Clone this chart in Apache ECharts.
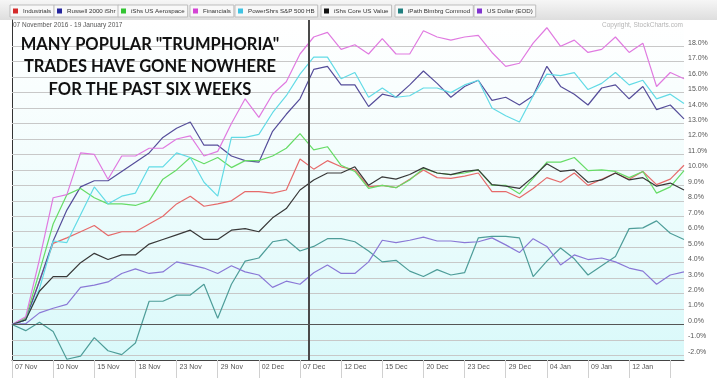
<!DOCTYPE html>
<html><head><meta charset="utf-8">
<script src="https://cdn.jsdelivr.net/npm/echarts@6/dist/echarts.min.js"></script>
<style>html,body{margin:0;padding:0;background:#fff}#c{width:717px;height:380px}</style>
</head><body><div id="c"></div>
<script>
const dates = ['07 Nov','08 Nov','09 Nov','10 Nov','11 Nov','14 Nov','15 Nov','16 Nov','17 Nov','18 Nov','21 Nov','22 Nov','23 Nov','25 Nov','28 Nov','29 Nov','30 Nov','01 Dec','02 Dec','05 Dec','06 Dec','07 Dec','08 Dec','09 Dec','12 Dec','13 Dec','14 Dec','15 Dec','16 Dec','19 Dec','20 Dec','21 Dec','22 Dec','23 Dec','27 Dec','28 Dec','29 Dec','30 Dec','03 Jan','04 Jan','05 Jan','06 Jan','09 Jan','10 Jan','11 Jan','12 Jan','13 Jan','17 Jan','18 Jan','19 Jan'];

const names = ['Industrials','Russell 2000 iShr','iShs US Aerospace','Financials','PowerShrs S&P 500 HB','iShs Core US Value','iPath Blmbrg Commod','US Dollar (EOD)'];

const industrials = [0,0.4,2.8,5.25,5.6,6.0,6.4,5.75,6.0,6.0, 6.5,7.0,7.8,8.3,7.65,7.8,8.0,8.6,8.6,8.5, 8.7,10.7,10.05,10.6,10.2,10.0,8.9,9.0,8.85,9.4, 10.0,9.5,9.45,9.6,9.8,8.6,8.6,8.2,8.8,9.5, 9.2,9.8,9.0,9.4,9.8,9.4,9.9,9.05,9.4,10.3];
const russell = [0,0.3,2.8,5.4,7.4,8.9,9.3,9.3,9.9,10.5, 11.1,12.1,12.7,13.1,11.6,11.6,10.9,10.6,10.5,12.5, 13.6,14.6,16.5,16.7,15.5,15.5,14.1,14.9,14.7,15.5, 16.4,15.6,14.7,15.4,15.8,14.5,14.7,14.2,14.8,16.7, 15.4,14.9,14.2,15.3,15.5,14.6,15.4,13.9,14.2,13.3];
const aerospace = [0,0.4,3.4,6.5,8.4,8.8,8.2,7.8,7.8,7.7, 8.0,9.4,10.0,10.8,10.4,10.8,10.15,10.6,10.6,10.9, 11.4,12.35,11.3,11.5,10.3,9.9,8.8,9.0,8.85,9.35, 10.1,9.8,9.7,9.8,10.0,9.0,9.0,8.45,9.45,10.5, 10.5,10.8,9.95,10.0,9.9,9.5,9.9,8.5,8.9,9.95];
const financials = [0,0.5,4.2,8.2,8.4,11.1,11.0,9.4,10.9,10.9, 11.4,11.4,12.0,12.2,10.9,11.2,13.0,14.6,13.4,14.9, 15.7,17.5,18.6,18.9,17.8,18.1,17.5,18.5,17.5,17.5, 19.0,18.6,18.4,18.6,18.7,17.6,16.7,16.9,18.2,19.2, 18.0,18.4,17.6,17.8,18.6,17.6,18.2,15.4,16.3,15.9];
const powershares = [0,0.3,2.3,5.4,5.3,7.1,8.9,7.8,8.3,8.5, 10.2,10.2,11.1,10.8,9.2,8.3,12.1,12.1,12.3,13.7, 14.8,16.2,17.3,17.3,15.9,16.3,14.7,15.3,14.7,14.8, 15.3,15.3,15.0,15.5,15.8,14.0,13.5,13.1,14.8,16.2, 16.1,16.3,15.2,15.6,16.3,15.5,15.8,14.6,14.9,14.3];
const coreValue = [0,0.3,2.15,3.1,3.1,4.0,4.6,4.2,4.5,4.5, 5.2,5.5,5.8,6.1,5.5,5.5,6.1,6.2,6.0,6.9, 7.5,8.7,9.35,9.8,9.8,10.2,9.0,9.55,9.4,9.7, 10.15,9.8,9.7,9.9,10.0,9.05,8.95,8.8,9.55,10.4, 9.9,10.0,9.2,9.35,9.8,9.35,9.5,8.95,9.15,8.7];
const commodity = [0,-0.4,0.15,-0.45,-2.25,-2.05,-0.85,-1.7,-1.95,-1.2, 1.5,1.5,1.9,1.9,2.6,0.4,2.6,4.1,4.3,5.35, 5.5,4.75,5.05,5.55,5.55,5.35,4.75,4.05,4.15,3.45, 3.1,3.55,3.2,3.35,5.6,5.7,5.7,5.6,3.1,4.1, 4.95,4.25,3.2,3.8,4.4,6.2,6.25,6.7,5.9,5.5];
const usDollar = [0,0.05,0.75,1.05,1.3,2.4,2.55,2.75,3.3,3.6, 3.3,3.4,4.05,3.85,3.65,3.3,3.8,3.4,3.2,2.4, 2.8,2.6,3.35,3.85,3.3,3.3,4.05,5.45,5.3,5.45, 5.65,5.4,5.4,5.3,5.35,5.6,5.15,4.65,5.55,5.05, 3.85,4.5,4.2,4.3,4.05,3.65,3.45,2.6,3.2,3.4];

const yTicks = [-2,-1,0,1,2,3,4,5,6,7,8,9,10,11,12,13,14,15,16,17,18];
const markerDay = 21.66;

const allValues = [industrials, russell, aerospace, financials, powershares, coreValue, commodity, usDollar];
const lineColors = ['#e66a6a','#554d9a','#66dc66','#e07ae0','#62dbe6','#383838','#4e9d99','#8a78d6'];
const legendColors = ['#d42a2a','#25259e','#33c433','#d443d4','#3ec3e3','#111111','#1f7f7f','#8033d0'];
const legendLeft = [10,54,118,190,235,321,395,474];

const chart = echarts.init(document.getElementById('c'));
const FONT = 'Liberation Sans';

const series = allValues.map((vals, k) => ({
  name: names[k], type: 'line', data: vals.map((v, i) => [i, v]),
  symbol: 'none', animation: false, z: 3,
  lineStyle: { width: 1.2, color: lineColors[k] }, itemStyle: { color: lineColors[k] }
}));
series[0].markLine = {
  silent: true, symbol: 'none', animation: false, label: { show: false },
  data: [
    { xAxis: markerDay, lineStyle: { color: '#4a4a4a', width: 2, type: 'solid' } },
    { yAxis: 0, lineStyle: { color: '#555', width: 1, type: 'solid' } }
  ]
};

const legends = names.map((n, k) => ({
  data: [{ name: n, itemStyle: { color: legendColors[k] } }],
  left: legendLeft[k], top: 5, icon: 'rect', itemWidth: 5, itemHeight: 5, itemGap: 0,
  padding: [3, 3, 3, 3], borderColor: '#bdbdbd', borderWidth: 1, backgroundColor: '#f8f8f8',
  selectedMode: false, textStyle: { fontSize: 6.2, color: '#333', fontFamily: FONT }
}));

chart.setOption({
  animation: false,
  backgroundColor: '#fff',
  grid: {
    left: 12, right: 33, top: 20, bottom: 20, show: true, borderWidth: 0,
    backgroundColor: new echarts.graphic.LinearGradient(0, 0, 0, 1, [
      { offset: 0, color: '#ffffff' }, { offset: 0.4, color: '#f3fdfd' }, { offset: 1, color: '#d9f9fa' }])
  },
  legend: legends,
  graphic: [
    { type: 'rect', z: -10, shape: { x: 0, y: 0, width: 717, height: 20 },
      style: { fill: new echarts.graphic.LinearGradient(0, 0, 0, 1, [{ offset: 0, color: '#f6f6f6' }, { offset: 1, color: '#dedede' }]) } },
    { type: 'text', x: 13, y: 25, z: 10, style: { text: '07 November 2016 - 19 January 2017', fill: '#555', fontSize: 6.5, fontFamily: FONT, verticalAlign: 'middle' } },
    { type: 'text', x: 602, y: 25, z: 10, style: { text: 'Copyright, StockCharts.com', fill: '#b5b5b5', fontSize: 6.5, fontFamily: FONT, verticalAlign: 'middle' } },
    { type: 'text', x: 150, y: 33, z: 10, style: { text: 'MANY POPULAR "TRUMPHORIA"\nTRADES HAVE GONE NOWHERE\nFOR THE PAST SIX WEEKS', fill: '#111', fontSize: 16.5, fontWeight: 'bold', fontFamily: 'Lato', lineHeight: 22.5, align: 'center', verticalAlign: 'top' } }
  ],
  xAxis: {
    type: 'value', min: 0, max: dates.length - 1, interval: 3,
    axisLine: { show: true, onZero: false, lineStyle: { color: '#444', width: 1 } },
    axisTick: { show: true, length: 18, lineStyle: { color: '#d0d0d0' } },
    axisLabel: { formatter: v => (v < dates.length - 2 ? dates[v] : ''), showMaxLabel: false, align: 'left', padding: [0, 0, 0, 3], margin: 4, fontSize: 7, color: '#555', fontFamily: FONT },
    splitLine: { show: false }
  },
  yAxis: {
    type: 'value', position: 'right', min: -2.3, max: 19.7,
    axisLine: { show: true, lineStyle: { color: '#333', width: 1 } },
    axisTick: { show: true, customValues: yTicks, length: 28, lineStyle: { color: '#c8c8c8' } },
    axisLabel: { customValues: yTicks, formatter: v => v.toFixed(1) + '%', fontSize: 7, color: '#555', fontFamily: FONT, verticalAlign: 'bottom', margin: 4 },
    splitLine: { show: true, customValues: yTicks, lineStyle: { color: '#c8c8c8', width: 1 } }
  },
  series: series
});
</script></body></html>
